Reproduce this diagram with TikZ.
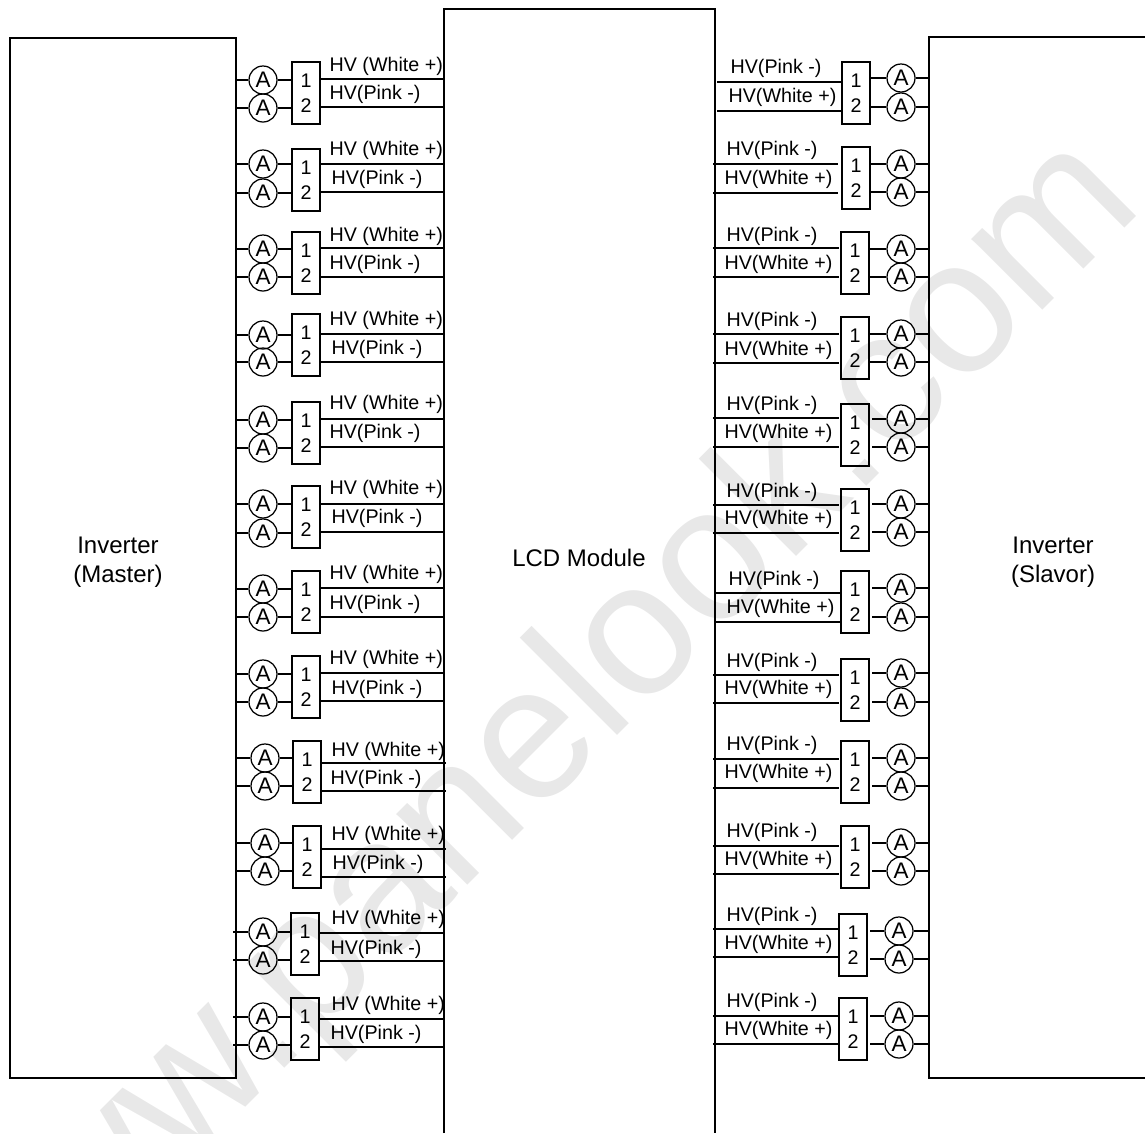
\documentclass[tikz,border=0pt]{standalone}
\usepackage{fontspec}
\setmainfont{Liberation Sans}
\definecolor{wmark}{gray}{0.91}
\tikzset{
	hvbox/.style={rectangle,draw,minimum width=28pt,minimum height=62pt,inner sep=0pt,align=center,font=\fontsize{19.7}{24.5}\selectfont},
	meter/.style={circle,draw,minimum size=28pt,inner sep=0pt,font=\fontsize{22.5}{22.5}\selectfont},
	hvtext/.style={anchor=west,inner sep=0pt,yshift=-1.5pt,font=\fontsize{19.7}{24}\selectfont},
	blocktext/.style={inner sep=0pt,align=center,font=\fontsize{24}{29}\selectfont}
}
% box with its two meters: name, box left, box top, meter x, meter y1, meter y2
\newcommand{\hvunit}[6]{
	\node (#1) [hvbox] at (#2+14,#3+31) {1\\2};
	\node (#1a) [meter] at (#4,#5) {A};
	\node (#1b) [meter] at (#4,#6) {A};
}
% name, wire y1, wire y2, white x, white y, pink x, pink y, wire end x, meter wire start x
\newcommand{\masterwires}[9]{
	\coordinate (#1p) at (#8,#2);
	\coordinate (#1q) at (#8,#3);
	\coordinate (#1r) at (#9,0);
	\draw (#1r |- #1a) -- (#1a);
	\draw (#1r |- #1b) -- (#1b);
	\draw (#1a) -- (#1.west |- #1a);
	\draw (#1b) -- (#1.west |- #1b);
	\draw (#1.east |- #1p) -- (#1p);
	\draw (#1.east |- #1q) -- (#1q);
	\node (#1w) [hvtext] at (#4,#5) {HV (White +)};
	\node (#1k) [hvtext] at (#6,#7) {HV(Pink -)};
}
% name, wire y1, wire y2, pink y, white y, white x, wire start x, wire end x, stub start x
\newcommand{\slavewires}[9]{
	\coordinate (#1p) at (#7,#2);
	\coordinate (#1q) at (#7,#3);
	\coordinate (#1e) at (#8,0);
	\coordinate (#1r) at (#9,0);
	\draw (#1p) -- (#1e |- #1p);
	\draw (#1q) -- (#1e |- #1q);
	\draw (#1r |- #1a) -- (#1a);
	\draw (#1r |- #1b) -- (#1b);
	\path (#1a.east) ++(14,0) coordinate (#1c);
	\path (#1b.east) ++(14,0) coordinate (#1d);
	\draw (#1a) -- (#1c);
	\draw (#1b) -- (#1d);
	\node (#1k) [hvtext] at (#6+2,#4) {HV(Pink -)};
	\node (#1w) [hvtext] at (#6,#5) {HV(White +)};
}
\begin{document}
\begin{tikzpicture}[x=1pt,y=-1pt,line width=1.25pt]
	\useasboundingbox (0,0) rectangle (1145,1133);
	\clip (0,0) rectangle (1145,1133);
	\node (mark) [rotate=45,anchor=base west,text=wmark,inner sep=0pt,font=\fontsize{190}{190}\selectfont] at (-12,1365) {www.panelook.com};

	\node (master) [rectangle,draw,minimum width=226pt,minimum height=1040pt,inner sep=0pt] at (123,558) {};
	\node (masterlabel) [blocktext] at (118,562) {Inverter\\(Master)};
	\draw (444,1133) -- (444,9) -- (715,9) -- (715,1133);
	\node (lcdlabel) [blocktext] at (579,558) {LCD Module};
	\draw (1146,37) -- (929,37) -- (929,1078) -- (1146,1078);
	\node (slavelabel) [blocktext] at (1053,562) {Inverter\\(Slavor)};

	% left side
	\hvunit{m1}{292}{62}{263}{80}{108}
	\hvunit{m2}{292}{149}{263}{164}{193}
	\hvunit{m3}{292}{232}{263}{249}{277}
	\hvunit{m4}{292}{314}{263}{335}{362}
	\hvunit{m5}{292}{402}{263}{420}{448}
	\hvunit{m6}{292}{486}{263}{504}{533}
	\hvunit{m7}{292}{571}{263}{589}{617}
	\hvunit{m8}{292}{656}{263}{674}{702}
	\hvunit{m9}{293}{741}{265}{758}{786}
	\hvunit{m10}{293}{826}{265}{843}{871}
	\hvunit{m11}{291}{913}{263}{932}{960}
	\hvunit{m12}{291}{998}{263}{1017}{1045}
	\masterwires{m1}{79}{107}{329}{65}{329}{93}{444}{236}
	\masterwires{m2}{164}{192}{329}{149}{331}{178}{444}{236}
	\masterwires{m3}{248}{277}{329}{235}{329}{263}{444}{236}
	\masterwires{m4}{334}{362}{329}{319}{331}{348}{444}{236}
	\masterwires{m5}{419}{447}{329}{403}{329}{432}{444}{236}
	\masterwires{m6}{504}{532}{329}{488}{331}{517}{444}{236}
	\masterwires{m7}{588}{617}{329}{573}{329}{603}{444}{236}
	\masterwires{m8}{673}{701}{329}{658}{331}{688}{444}{236}
	\masterwires{m9}{763}{791}{331}{750}{330}{778}{446}{236}
	\masterwires{m10}{849}{877}{331}{834}{332}{863}{446}{236}
	\masterwires{m11}{933}{961}{331}{918}{330}{948}{444}{233}
	\masterwires{m12}{1019}{1047}{331}{1004}{330}{1033}{444}{233}

	% right side
	\hvunit{s1}{842}{62}{901}{78}{107}
	\hvunit{s2}{842}{147}{901}{164}{192}
	\hvunit{s3}{841}{232}{901}{249}{277}
	\hvunit{s4}{841}{317}{901}{334}{362}
	\hvunit{s5}{841}{404}{901}{419}{447}
	\hvunit{s6}{841}{489}{901}{504}{532}
	\hvunit{s7}{841}{571}{901}{588}{617}
	\hvunit{s8}{841}{659}{901}{673}{702}
	\hvunit{s9}{841}{741}{901}{758}{786}
	\hvunit{s10}{841}{826}{901}{843}{871}
	\hvunit{s11}{839}{914}{899}{931}{959}
	\hvunit{s12}{839}{998}{899}{1016}{1044}
	\slavewires{s1}{82}{111}{67}{96}{728}{717}{842}{870}
	\slavewires{s2}{164}{193}{149}{178}{724}{713}{838}{870}
	\slavewires{s3}{248}{277}{235}{263}{724}{713}{839}{870}
	\slavewires{s4}{334}{363}{320}{349}{724}{713}{839}{870}
	\slavewires{s5}{418}{447}{404}{432}{724}{713}{839}{872}
	\slavewires{s6}{505}{533}{491}{518}{724}{713}{839}{872}
	\slavewires{s7}{593}{622}{579}{607}{726}{715}{841}{872}
	\slavewires{s8}{675}{703}{661}{688}{724}{713}{839}{872}
	\slavewires{s9}{759}{788}{744}{772}{724}{713}{839}{872}
	\slavewires{s10}{846}{874}{831}{859}{724}{713}{839}{872}
	\slavewires{s11}{929}{957}{915}{943}{724}{713}{839}{870}
	\slavewires{s12}{1016}{1044}{1001}{1029}{724}{713}{839}{870}
\end{tikzpicture}
\end{document}
